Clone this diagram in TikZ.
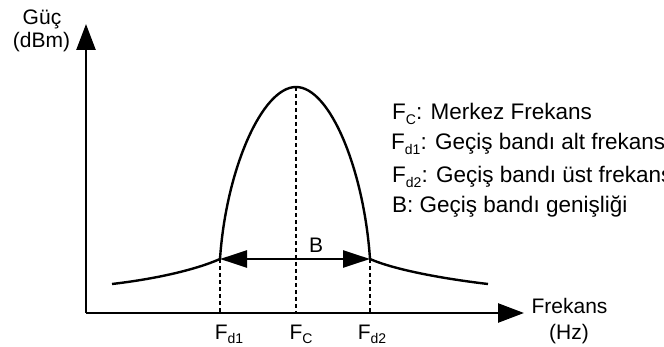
\documentclass[tikz,border=0pt]{standalone}
\usepackage{fontspec}
\setmainfont{Liberation Sans}
\usetikzlibrary{arrows.meta}
\newcommand{\sbs}[1]{\raisebox{-0.35ex}{\fontsize{14}{14}\selectfont #1}}
\tikzset{
  axis/.style={line width=2.5pt, -{Triangle[length=26pt,width=19pt]}},
  curve/.style={line width=2.4pt},
  guide/.style={line width=2pt, dash pattern=on 4pt off 3pt},
  barr/.style={line width=2.4pt, {Triangle[length=27pt,width=17pt]}-{Triangle[length=27pt,width=17pt]}},
  lbl/.style={font=\fontsize{21}{24}\selectfont, inner sep=0pt, anchor=base},
  leg/.style={font=\fontsize{22.5}{24}\selectfont, inner sep=0pt, anchor=base west},
}
\begin{document}
\begin{tikzpicture}[x=1pt,y=-1pt]
\useasboundingbox (0,0) rectangle (664,347);
% axes
\coordinate (O) at (86,313);
\coordinate (Ytop) at (86,24);
\coordinate (Xend) at (524,313);
\draw[axis] (O) -- (Ytop);
\draw[axis] (O) -- (Xend);
\node[lbl] (ylab1) at (42,25) {Güç};
\node[lbl] (ylab2) at (41.5,48) {(dBm)};
\node[lbl] (xlab1) at (569.5,313) {Frekans};
\node[lbl] (xlab2) at (569,340) {(Hz)};
% curve points
\coordinate (L) at (112,284);
\coordinate (D1) at (220,259);
\coordinate (P) at (296,87);
\coordinate (D2) at (370,259);
\coordinate (R) at (488,284);
\coordinate (B1) at (220,313);
\coordinate (BC) at (296,313);
\coordinate (B2) at (370,313);
\draw[curve] (L) .. controls (155,279) and (195,270) .. (D1)
  .. controls (226,170) and (262,87) .. (P)
  .. controls (330,87) and (364,170) .. (D2)
  .. controls (395,270) and (445,279) .. (R);
\draw[guide] (D1) -- (B1);
\draw[guide] (P) -- (BC);
\draw[guide] (D2) -- (B2);
\draw[barr] (D1) -- (D2);
\node[lbl] (blab) at (316,253) {B};
% tick labels
\node[lbl] (fd1) at (229,340) {F\sbs{d1}};
\node[lbl] (fc) at (301,340) {F\sbs{C}};
\node[lbl] (fd2) at (372,340) {F\sbs{d2}};
% legend
\node[leg] (l1) at (392,120) {F\sbs{C}: Merkez Frekans};
\node[leg] (l2) at (391,150) {F\sbs{d1}: Geçiş bandı alt frekans};
\node[leg] (l3) at (392,183) {F\sbs{d2}: Geçiş bandı üst frekans};
\node[leg] (l4) at (392,213) {B: Geçiş bandı genişliği};
\end{tikzpicture}
\end{document}
